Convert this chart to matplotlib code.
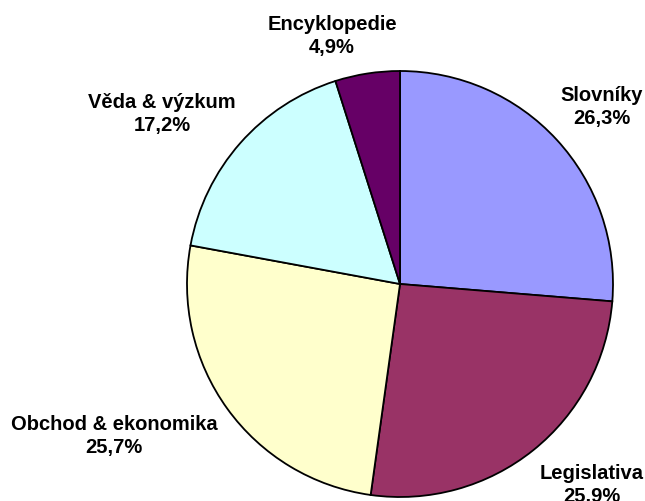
import matplotlib
import matplotlib.pyplot as plt

matplotlib.use("Agg")

# shares in %, clockwise from 12 o'clock
categories = ["Slovníky", "Legislativa", "Obchod & ekonomika", "Věda & výzkum", "Encyklopedie"]
shares = [26.3, 25.9, 25.7, 17.2, 4.9]
colors = ["#9999FF", "#993366", "#FFFFCC", "#CCFFFF", "#660066"]

# label centres in pixel coords (y from the top)
label_pos = [(602, 107), (592, 485), (114, 436), (162, 114), (332, 36)]

W, H = 645, 501
fig = plt.figure(figsize=(W / 100, H / 100), dpi=100)
ax = fig.add_axes([0, 0, 1, 1])
ax.set_xlim(0, W)
ax.set_ylim(0, H)
ax.set_aspect("equal")
ax.axis("off")

ax.pie(
    shares,
    colors=colors,
    startangle=90,
    counterclock=False,
    center=(400, H - 284),
    radius=213,
    wedgeprops={"edgecolor": "black", "linewidth": 1.3},
)
ax.set_xlim(0, W)
ax.set_ylim(0, H)

for name, val, (x, y) in zip(categories, shares, label_pos):
    txt = f"{name}\n{val:.1f}%".replace(".", ",")
    ax.text(x, H - y, txt, ha="center", va="center", fontsize=14.5,
            fontweight="bold", family="Liberation Sans", linespacing=1.3,
            clip_on=False)

fig.savefig("out.png", dpi=100)
